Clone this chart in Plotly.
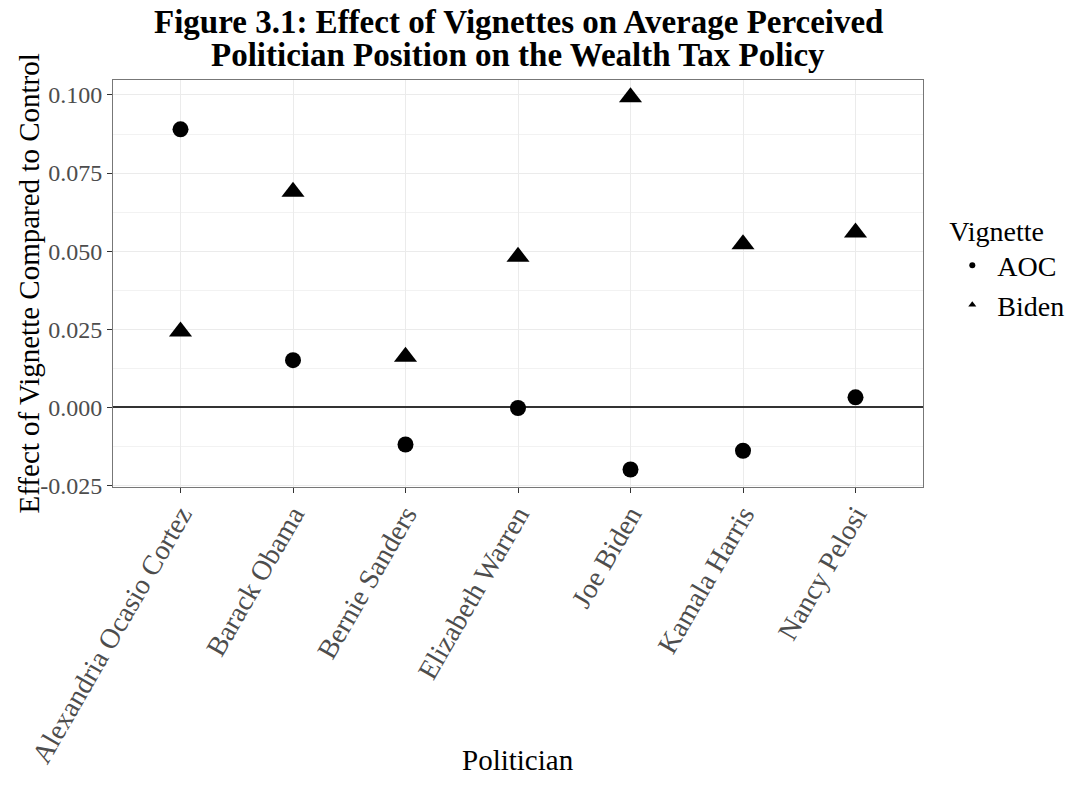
import plotly.graph_objects as go

# Politicians on the x axis (discrete)
politicians = [
    "Alexandria Ocasio Cortez",
    "Barack Obama",
    "Bernie Sanders",
    "Elizabeth Warren",
    "Joe Biden",
    "Kamala Harris",
    "Nancy Pelosi",
]

# Effect of each vignette relative to the control group
aoc_effect = [0.0890, 0.0151, -0.0119, -0.0002, -0.0199, -0.0139, 0.0032]
biden_effect = [0.0243, 0.0690, 0.0162, 0.0482, 0.0993, 0.0522, 0.0560]

# y-axis ticks
y_ticks = [-0.025, 0.000, 0.025, 0.050, 0.075, 0.100]
y_tick_labels = ["-0.025", "0.000", "0.025", "0.050", "0.075", "0.100"]

FONT = "Liberation Serif"
GRID = "#ebebeb"

fig = go.Figure()

fig.add_trace(go.Scatter(
    x=politicians, y=aoc_effect, mode="markers", name="AOC",
    marker=dict(symbol="circle", size=16, color="black"),
    showlegend=False,
))
fig.add_trace(go.Scatter(
    x=politicians, y=biden_effect, mode="markers", name="Biden",
    marker=dict(symbol="triangle-up", size=20, color="black"),
    showlegend=False,
))

# small legend keys
fig.add_trace(go.Scatter(
    x=[None], y=[None], mode="markers", name="AOC",
    marker=dict(symbol="circle", size=6, color="black"),
))
fig.add_trace(go.Scatter(
    x=[None], y=[None], mode="markers", name="Biden",
    marker=dict(symbol="triangle-up", size=7, color="black"),
))

fig.update_layout(
    width=1087, height=803,
    margin=dict(l=113, r=164, t=80, b=316),
    paper_bgcolor="white", plot_bgcolor="white",
    font=dict(family=FONT, color="black"),
    legend=dict(
        title=dict(text="Vignette", font=dict(size=28, family=FONT, color="black")),
        font=dict(size=28, family=FONT, color="black"),
        x=1.03, xanchor="left", y=0.695, yanchor="top",
        itemwidth=40,
        bgcolor="rgba(0,0,0,0)", tracegroupgap=0,
    ),
    annotations=[
        dict(text="<b>Figure 3.1: Effect of Vignettes on Average Perceived</b>",
             xref="paper", yref="paper", x=0.5, y=1.0, yshift=58,
             showarrow=False, font=dict(size=33, family=FONT, color="black"),
             xanchor="center", yanchor="middle"),
        dict(text="<b>Politician Position on the Wealth Tax Policy</b>",
             xref="paper", yref="paper", x=0.5, y=1.0, yshift=25,
             showarrow=False, font=dict(size=33, family=FONT, color="black"),
             xanchor="center", yanchor="middle"),
        dict(text="Politician", xref="paper", yref="paper", x=0.5, y=0, yshift=-273,
             showarrow=False, font=dict(size=29, family=FONT, color="black"),
             xanchor="center", yanchor="middle"),
        dict(text="Effect of Vignette Compared to Control", xref="paper", yref="paper",
             x=0, xshift=-85, y=0.5, textangle=-90,
             showarrow=False, font=dict(size=29, family=FONT, color="black"),
             xanchor="center", yanchor="middle"),
    ],
)

fig.update_xaxes(
    type="category", categoryorder="array", categoryarray=politicians,
    range=[-0.6, 6.6],
    showgrid=True, gridcolor=GRID, gridwidth=1,
    showline=True, linecolor="#777777", linewidth=1, mirror=True,
    ticks="outside", ticklen=5, tickcolor="#333333", tickwidth=1,
    tickangle=-60, ticklabelstandoff=-6,
    tickfont=dict(size=28, family=FONT, color="#4d4d4d"),
    zeroline=False,
)
fig.update_yaxes(
    range=[-0.0255, 0.1048],
    tickvals=y_ticks, ticktext=y_tick_labels,
    showgrid=True, gridcolor=GRID, gridwidth=1,
    minor=dict(dtick=0.0125, tick0=0, showgrid=True, gridcolor="#f2f2f2", gridwidth=1),
    showline=True, linecolor="#777777", linewidth=1, mirror=True,
    ticks="outside", ticklen=5, tickcolor="#333333", tickwidth=1,
    tickfont=dict(size=24, family=FONT, color="#4d4d4d"),
    zeroline=True, zerolinecolor="#333333", zerolinewidth=1.5,
)

fig.write_html("out.html")
